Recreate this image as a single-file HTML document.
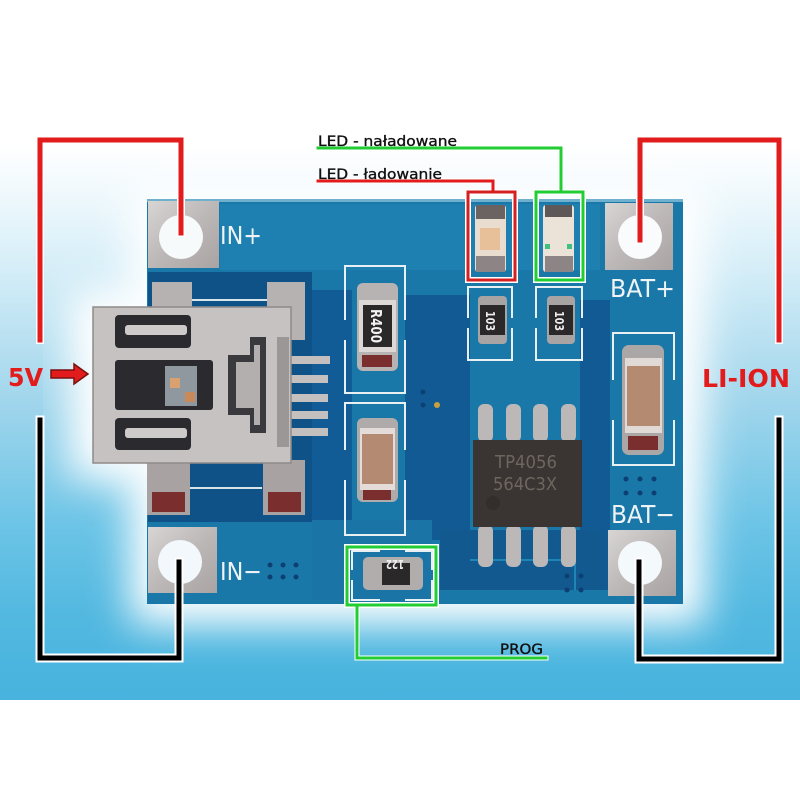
<!DOCTYPE html>
<html><head><meta charset="utf-8"><style>
html,body{margin:0;padding:0;background:#fff;}
svg{display:block;}
</style></head><body>
<svg width="800" height="800" viewBox="0 0 800 800" xmlns="http://www.w3.org/2000/svg">
<defs>
<linearGradient id="bg" x1="0" y1="0" x2="0" y2="700" gradientUnits="userSpaceOnUse">
<stop offset="0" stop-color="#ffffff"/>
<stop offset="0.21" stop-color="#ffffff"/>
<stop offset="0.38" stop-color="#d6eef8"/>
<stop offset="0.57" stop-color="#a2d6ec"/>
<stop offset="0.75" stop-color="#6cc4e6"/>
<stop offset="0.88" stop-color="#52b8e0"/>
<stop offset="1" stop-color="#47b3de"/>
</linearGradient>
<filter id="blur" x="-30%" y="-30%" width="160%" height="160%"><feGaussianBlur stdDeviation="20"/></filter>
<linearGradient id="silver" x1="0" y1="0" x2="1" y2="1">
<stop offset="0" stop-color="#d8d5d5"/><stop offset="0.5" stop-color="#bdb8b8"/><stop offset="1" stop-color="#a9a3a3"/>
</linearGradient>
</defs>
<rect x="0" y="0" width="800" height="700" fill="url(#bg)"/>
<rect x="0" y="700" width="800" height="100" fill="#fff"/>
<rect x="130" y="185" width="575" height="440" fill="#fff" filter="url(#blur)"/>
<rect x="70" y="290" width="90" height="190" fill="#fff" filter="url(#blur)"/>

<!-- board -->
<rect x="147" y="199" width="536" height="405" fill="#1a78a9"/>
<rect x="147" y="199" width="536" height="3" fill="#6fb0cf"/>
<rect x="220" y="204" width="380" height="66" fill="#1d80b0"/>
<rect x="148" y="272" width="164" height="250" fill="#0e5288"/>
<rect x="312" y="290" width="40" height="240" fill="#115c96"/>
<rect x="405" y="295" width="65" height="245" fill="#125a93"/>
<rect x="580" y="300" width="30" height="290" fill="#125a93"/>
<rect x="440" y="530" width="165" height="60" fill="#12598f"/>
<rect x="312" y="520" width="120" height="80" fill="#1a74a6"/>
<!-- traces -->
<path d="M160 300 H290 M160 488 H262" stroke="#d9e4ea" stroke-width="2"/>
<path d="M470 560 H575 V590" stroke="#1e86b6" stroke-width="2" fill="none"/>

<!-- pads with holes -->
<rect x="148" y="201" width="71" height="67" fill="url(#silver)"/>
<circle cx="181" cy="237" r="22" fill="#f7fafb"/>
<rect x="148" y="527" width="69" height="66" fill="url(#silver)"/>
<circle cx="180" cy="562" r="22" fill="#f2f8fb"/>
<rect x="605" y="203" width="68" height="67" fill="url(#silver)"/>
<circle cx="640" cy="237" r="22" fill="#fafbfc"/>
<rect x="608" y="530" width="68" height="66" fill="url(#silver)"/>
<circle cx="640" cy="563" r="22" fill="#f4f9fb"/>

<!-- silkscreen labels -->
<g font-family="'DejaVu Sans','Liberation Sans',sans-serif" fill="#eef3f5">
<text x="220" y="244" font-size="25" textLength="42" lengthAdjust="spacingAndGlyphs">IN+</text>
<text x="220" y="580" font-size="25" textLength="42" lengthAdjust="spacingAndGlyphs">IN−</text>
<text x="610" y="297" font-size="25" textLength="65" lengthAdjust="spacingAndGlyphs">BAT+</text>
<text x="611" y="523" font-size="25" textLength="64" lengthAdjust="spacingAndGlyphs">BAT−</text>
</g>
<!-- vias -->
<g fill="#0d3f72">
<circle cx="270" cy="565" r="2.5"/><circle cx="283" cy="565" r="2.5"/><circle cx="296" cy="565" r="2.5"/>
<circle cx="270" cy="577" r="2.5"/><circle cx="283" cy="577" r="2.5"/><circle cx="296" cy="577" r="2.5"/>
<circle cx="626" cy="479" r="2.5"/><circle cx="640" cy="479" r="2.5"/><circle cx="654" cy="479" r="2.5"/>
<circle cx="626" cy="493" r="2.5"/><circle cx="640" cy="493" r="2.5"/><circle cx="654" cy="493" r="2.5"/>
<circle cx="567" cy="576" r="2.5"/><circle cx="581" cy="576" r="2.5"/><circle cx="567" cy="590" r="2.5"/><circle cx="581" cy="590" r="2.5"/>
<circle cx="423" cy="392" r="2.5"/><circle cx="423" cy="405" r="2.5"/><circle cx="437" cy="405" r="3" fill="#c9a040"/>
</g>

<!-- silk outlines -->
<g fill="none" stroke="#e8f0f3" stroke-width="2">
<path d="M345 320 V266 H405 V320 M345 340 V393 H405 V340"/>
<path d="M345 450 V403 H405 V450 M345 480 V535 H405 V480"/>
<path d="M468 318 V287 H512 V318 M468 328 V360 H512 V328"/>
<path d="M536 318 V287 H582 V318 M536 328 V360 H582 V328"/>
<path d="M613 380 V333 H674 V380 M613 420 V465 H674 V420"/>
<path d="M352 570 V551 H380 M405 551 H432 V570 M352 580 V600 H380 M405 600 H432 V580"/>
</g>

<!-- USB tabs -->
<rect x="152" y="282" width="40" height="28" fill="#b7b2b2"/>
<rect x="267" y="282" width="38" height="58" fill="#b7b2b2"/>
<rect x="147" y="460" width="43" height="55" fill="#a9a2a2"/>
<rect x="152" y="492" width="33" height="20" fill="#7a2e2e"/>
<rect x="263" y="460" width="42" height="55" fill="#a9a2a2"/>
<rect x="268" y="492" width="33" height="20" fill="#7a2e2e"/>
<!-- USB pins -->
<g fill="#c4c0c0">
<rect x="288" y="356" width="42" height="8"/><rect x="288" y="375" width="40" height="8"/>
<rect x="288" y="394" width="40" height="8"/><rect x="288" y="411" width="40" height="8"/><rect x="288" y="428" width="40" height="8"/>
</g>
<!-- USB body -->
<rect x="93" y="307" width="198" height="156" fill="#c6c2c2" stroke="#8f8a8a" stroke-width="1.5"/>
<rect x="115" y="315" width="76" height="33" rx="4" fill="#2b2a2e"/>
<rect x="125" y="325" width="62" height="10" rx="3" fill="#cfcaca"/>
<rect x="115" y="360" width="98" height="50" rx="3" fill="#2b2a2e"/>
<rect x="165" y="366" width="32" height="40" fill="#a9b4bc" opacity="0.8"/>
<rect x="170" y="378" width="10" height="10" fill="#d9a070"/>
<rect x="185" y="392" width="10" height="10" fill="#c88a5a"/>
<rect x="115" y="418" width="76" height="32" rx="4" fill="#2b2a2e"/>
<rect x="125" y="428" width="62" height="10" rx="3" fill="#cfcaca"/>
<path d="M228 355 H250 V337 H266 V433 H250 V415 H228 Z" fill="#3a393d"/>
<path d="M236 362 H254 V345 H260 V425 H254 V408 H236 Z" fill="#b4afaf"/>
<rect x="277" y="337" width="12" height="110" fill="#9c9797"/>

<!-- R400 -->
<rect x="357" y="283" width="41" height="88" rx="6" fill="#b8b3b3"/>
<rect x="359" y="300" width="37" height="52" fill="#ddd8d6"/>
<rect x="363" y="305" width="29" height="42" fill="#2a2828"/>
<text x="0" y="0" transform="translate(371 309) rotate(90)" font-family="'DejaVu Sans',sans-serif" font-size="15" font-weight="bold" fill="#f2f2f2" textLength="34" lengthAdjust="spacingAndGlyphs">R400</text>
<rect x="362" y="355" width="30" height="12" fill="#7a2e2e"/>
<!-- cap -->
<rect x="357" y="418" width="41" height="84" rx="6" fill="#b0abab"/>
<rect x="360" y="428" width="35" height="62" fill="#e3dcd8"/>
<rect x="362" y="434" width="31" height="50" fill="#b48a72"/>
<rect x="363" y="490" width="28" height="10" fill="#7a2e2e"/>

<!-- LEDs -->
<rect x="475" y="205" width="31" height="67" rx="3" fill="#e9ddcf"/>
<rect x="476" y="205" width="29" height="14" fill="#6b6262"/>
<rect x="480" y="228" width="20" height="22" fill="#e6b88a" opacity="0.8"/>
<rect x="476" y="256" width="29" height="16" fill="#8d8585"/>
<rect x="543" y="205" width="31" height="67" rx="3" fill="#ece3d8"/>
<rect x="545" y="205" width="27" height="12" fill="#5e5858"/>
<rect x="545" y="244" width="5" height="5" fill="#40c080"/><rect x="567" y="244" width="5" height="5" fill="#40c080"/>
<rect x="545" y="256" width="28" height="16" fill="#8d8585"/>

<!-- 103 resistors -->
<rect x="478" y="296" width="29" height="48" rx="4" fill="#a9a4a4"/>
<rect x="480" y="305" width="25" height="30" fill="#2a2828"/>
<text transform="translate(486 311) rotate(90)" font-family="'DejaVu Sans',sans-serif" font-size="12" font-weight="bold" fill="#eee" textLength="20" lengthAdjust="spacingAndGlyphs">103</text>
<rect x="547" y="296" width="28" height="48" rx="4" fill="#a9a4a4"/>
<rect x="549" y="305" width="24" height="30" fill="#2a2828"/>
<text transform="translate(555 311) rotate(90)" font-family="'DejaVu Sans',sans-serif" font-size="12" font-weight="bold" fill="#eee" textLength="20" lengthAdjust="spacingAndGlyphs">103</text>

<!-- IC pins -->
<g fill="#bdb8b8">
<rect x="478" y="404" width="15" height="38" rx="6"/><rect x="506" y="404" width="15" height="38" rx="6"/>
<rect x="533" y="404" width="15" height="38" rx="6"/><rect x="561" y="404" width="15" height="38" rx="6"/>
<rect x="478" y="525" width="15" height="42" rx="6"/><rect x="506" y="525" width="15" height="42" rx="6"/>
<rect x="533" y="525" width="15" height="42" rx="6"/><rect x="561" y="525" width="15" height="42" rx="6"/>
</g>
<rect x="473" y="440" width="109" height="87" fill="#3a3533"/>
<text x="495" y="468" font-family="'DejaVu Sans',sans-serif" font-size="18" fill="#6e665e" textLength="62" lengthAdjust="spacingAndGlyphs">TP4056</text>
<text x="493" y="490" font-family="'DejaVu Sans',sans-serif" font-size="18" fill="#6e665e" textLength="64" lengthAdjust="spacingAndGlyphs">564C3X</text>
<circle cx="493" cy="503" r="7" fill="#332e2c"/>

<!-- right cap -->
<rect x="622" y="345" width="42" height="110" rx="7" fill="#aca7a7"/>
<rect x="625" y="358" width="37" height="75" fill="#e0d9d5"/>
<rect x="627" y="366" width="33" height="60" fill="#b48a70"/>
<rect x="628" y="436" width="30" height="14" fill="#7a2e2e"/>

<!-- 122 resistor -->
<rect x="363" y="557" width="60" height="33" rx="5" fill="#b2adad"/>
<rect x="382" y="563" width="28" height="22" fill="#2a2828"/>
<text transform="translate(404 569) rotate(180)" font-family="'DejaVu Sans',sans-serif" font-size="12" font-weight="bold" fill="#eee" textLength="18" lengthAdjust="spacingAndGlyphs" dominant-baseline="hanging">122</text>

<!-- annotation lines: white outlines -->
<g fill="none" stroke="#fff" stroke-linecap="square" stroke-linejoin="miter">
<path d="M40 340 V140 H181 V233" stroke-width="8"/>
<path d="M40 420 V658 H179 V562" stroke-width="9"/>
<path d="M640 240 V140 H779 V340" stroke-width="8"/>
<path d="M639 562 V659 H779 V420" stroke-width="9"/>
<path d="M318 148 H561 V192" stroke-width="5"/>
<path d="M318 181 H493 V192" stroke-width="5"/>
<rect x="468" y="192" width="47" height="88" stroke-width="6"/>
<rect x="536" y="192" width="47" height="88" stroke-width="6"/>
<rect x="347" y="547" width="89" height="58" stroke-width="6"/>
<path d="M357 605 V658 H546" stroke-width="5"/>
</g>
<g fill="none" stroke-linecap="square" stroke-linejoin="miter">
<path d="M40 340 V140 H181 V233" stroke="#e21c1c" stroke-width="5"/>
<path d="M40 420 V658 H179 V562" stroke="#000" stroke-width="5"/>
<path d="M640 240 V140 H779 V340" stroke="#e21c1c" stroke-width="5"/>
<path d="M639 562 V659 H779 V420" stroke="#000" stroke-width="5"/>
<path d="M318 148 H561 V192" stroke="#22cc33" stroke-width="3"/>
<path d="M318 181 H493 V192" stroke="#e21c1c" stroke-width="3"/>
<rect x="468" y="192" width="47" height="88" stroke="#d42020" stroke-width="3"/>
<rect x="536" y="192" width="47" height="88" stroke="#22cc33" stroke-width="3"/>
<rect x="347" y="547" width="89" height="58" stroke="#22cc33" stroke-width="3"/>
<path d="M357 605 V658 H546" stroke="#22cc33" stroke-width="3"/>
</g>

<!-- arrow -->
<path d="M51 370 H74 V364 L88 374 L74 384 V378 H51 Z" fill="#e21c1c" stroke="#7a1010" stroke-width="1.5"/>

<!-- labels -->
<g font-family="'DejaVu Sans','Liberation Sans',sans-serif">
<text x="8" y="386" font-size="25" font-weight="bold" fill="#e21c1c" textLength="35" lengthAdjust="spacingAndGlyphs">5V</text>
<text x="702" y="387" font-size="25" font-weight="bold" fill="#e21c1c" textLength="88" lengthAdjust="spacingAndGlyphs">LI-ION</text>
<text x="318" y="146" font-size="14" fill="#111" stroke="#111" stroke-width="0.35" textLength="139" lengthAdjust="spacingAndGlyphs">LED - naładowane</text>
<text x="318" y="179" font-size="14" fill="#111" stroke="#111" stroke-width="0.35" textLength="124" lengthAdjust="spacingAndGlyphs">LED - ładowanie</text>
<text x="500" y="654" font-size="14" fill="#111" stroke="#111" stroke-width="0.35" textLength="43" lengthAdjust="spacingAndGlyphs">PROG</text>
</g>
</svg>
</body></html>
